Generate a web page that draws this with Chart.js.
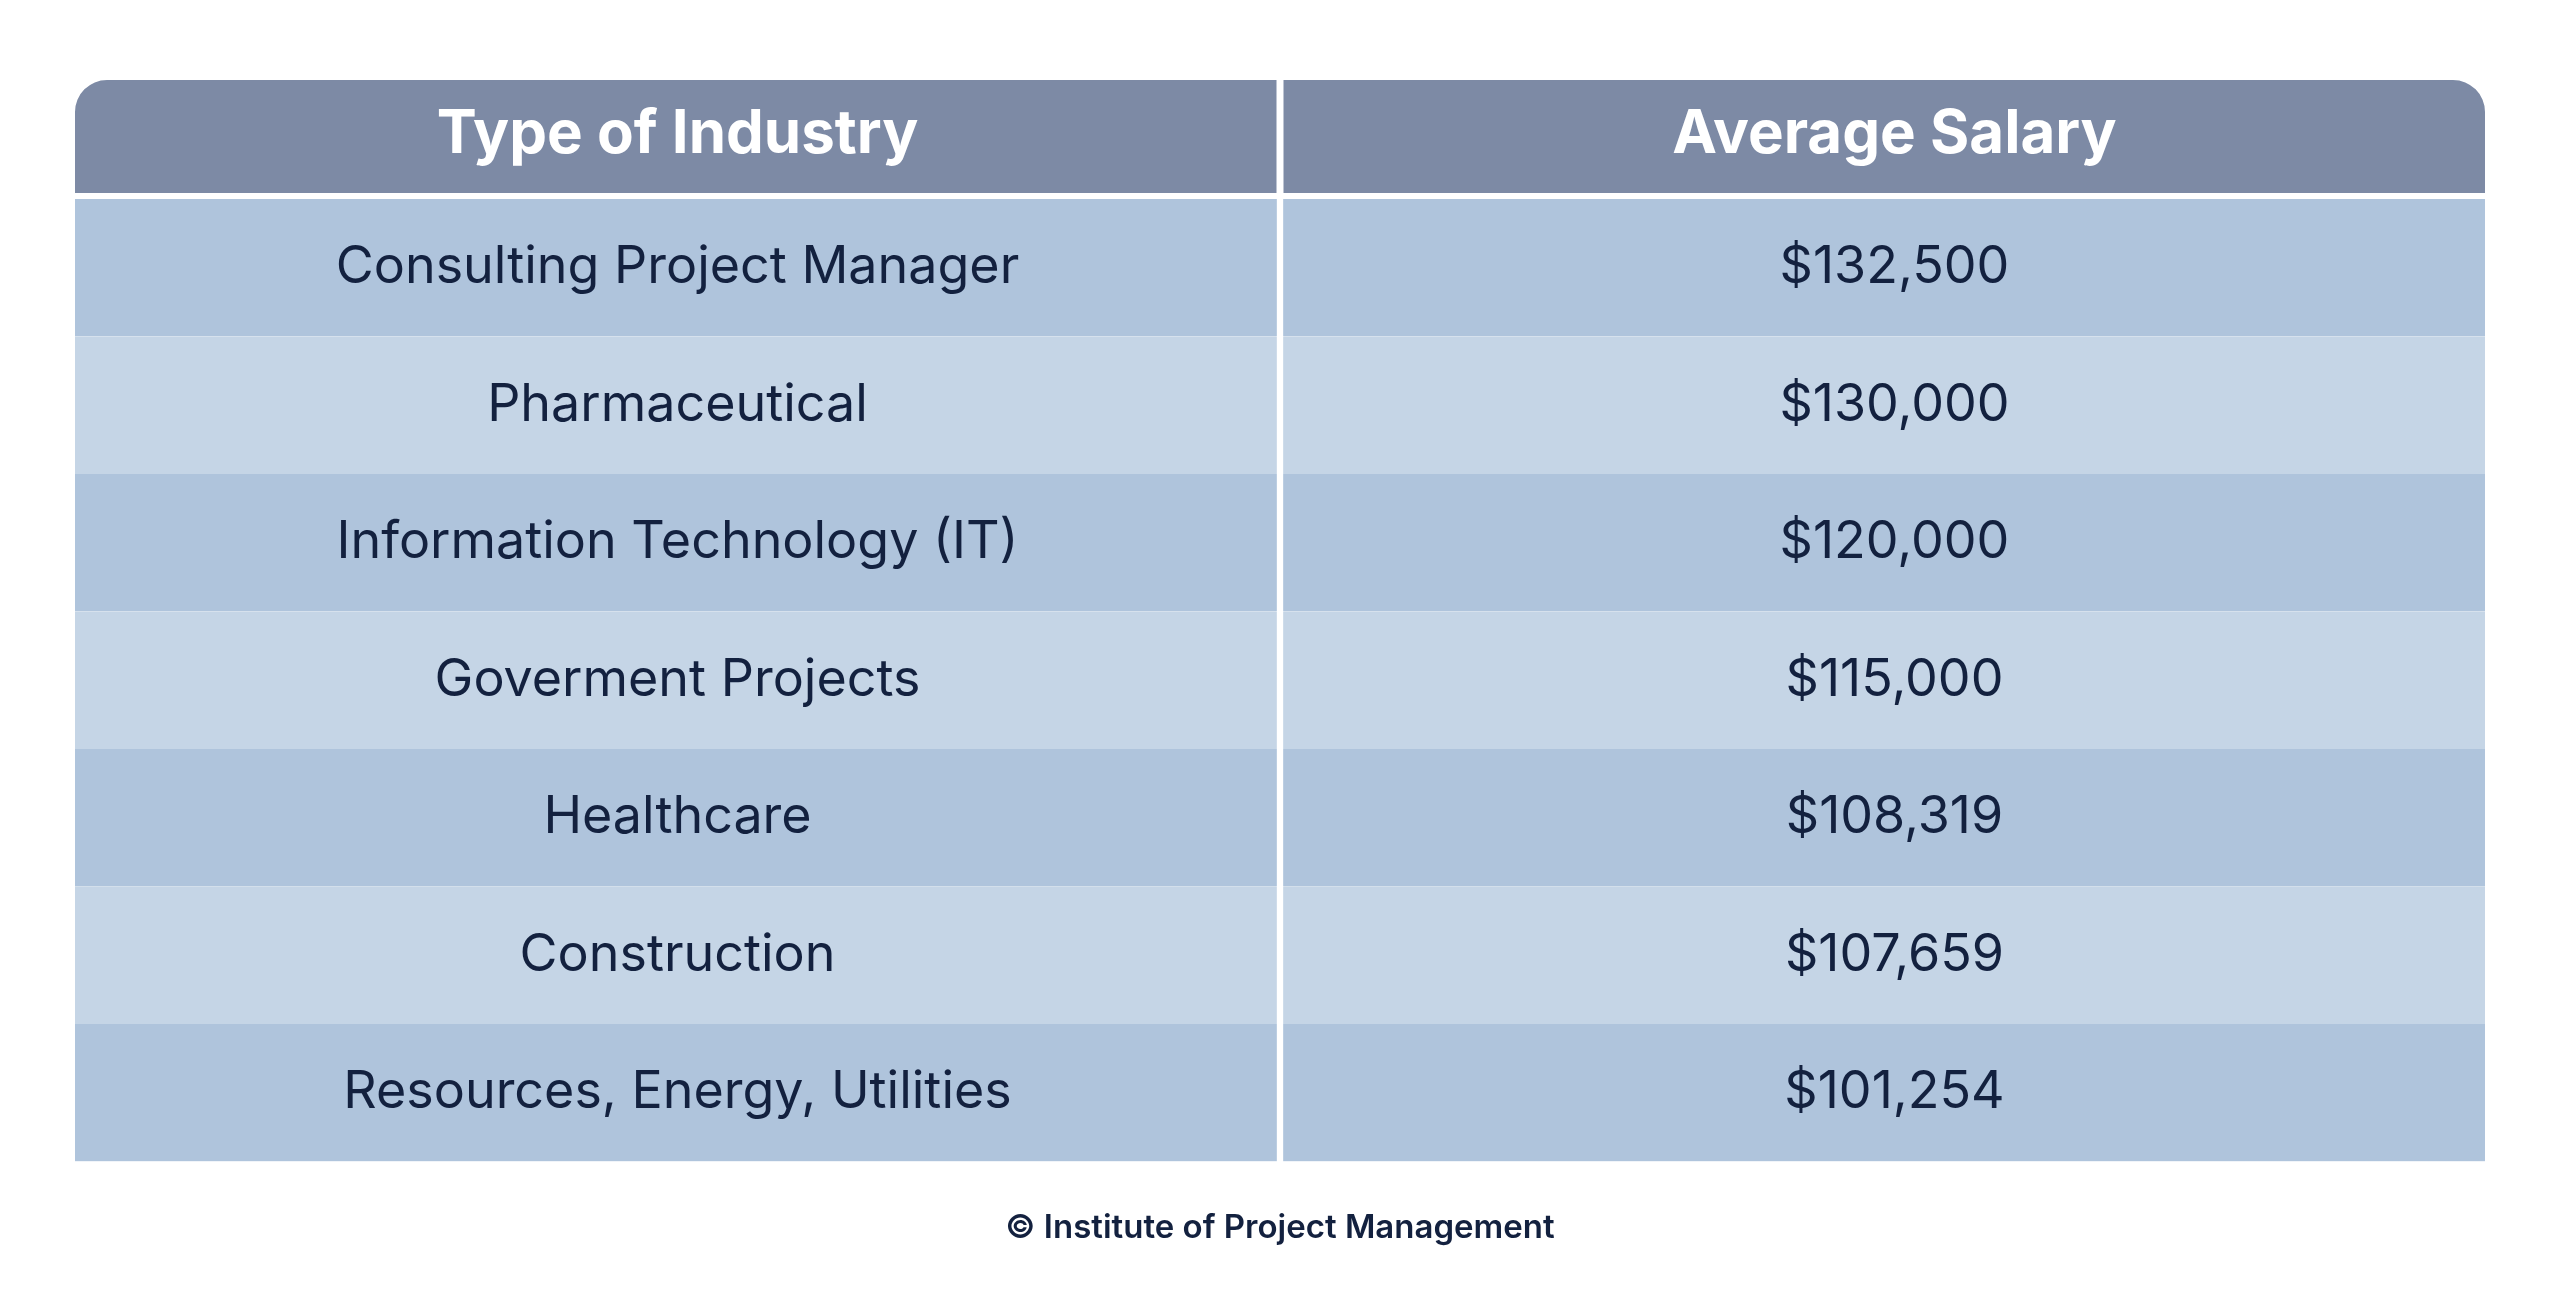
<!DOCTYPE html>
<html>
<head>
<meta charset="utf-8">
<title>Project Manager Salary by Industry</title>
<script src="https://cdn.jsdelivr.net/npm/chart.js@4/dist/chart.umd.min.js"></script>
<style>
  html, body { margin: 0; padding: 0; background: #ffffff; }
  #wrap { width: 2560px; height: 1307px; }
</style>
</head>
<body>
<div id="wrap"><canvas id="salary-table"></canvas></div>
<script>
// Table content
const headers = ['Type of Industry', 'Average Salary'];
const industries = [
    'Consulting Project Manager',
    'Pharmaceutical',
    'Information Technology (IT)',
    'Goverment Projects',
    'Healthcare',
    'Construction',
    'Resources, Energy, Utilities'
];
const salaries = [132500, 130000, 120000, 115000, 108319, 107659, 101254];
const footer = '\u00A9 Institute of Project Management';

const headerBg = '#7d8aa5';
const rowDark = '#afc4dc';
const rowLight = '#c5d5e6';
const textColor = '#13213f';

function fmtSalary(v) {
    return '$' + v.toLocaleString('en-US');
}

const rowColors = industries.map((_, i) => i % 2 === 0 ? rowDark : rowLight);
// the salary column text sits a little right of centre in the original
const colShift = [0, 12];

// header background behind the top x axis, with rounded outer corners
const headerPlugin = {
    id: 'headerBg',
    beforeDraw(chart) {
        const ctx = chart.ctx;
        const xs = chart.scales.x;
        const top = xs.top;
        const bottom = xs.bottom - 6;
        const x0 = xs.getPixelForValue(0);
        const x1 = xs.getPixelForValue(1);
        const x2 = xs.getPixelForValue(2);
        const r = 32;
        ctx.save();
        ctx.fillStyle = headerBg;
        ctx.beginPath();
        ctx.roundRect(x0, top, x1 - x0 - 3.5, bottom - top, [r, 0, 0, 0]);
        ctx.roundRect(x1 + 3.5, top, x2 - x1 - 3.5, bottom - top, [0, r, 0, 0]);
        ctx.fill();
        ctx.restore();
    }
};

// cell text drawn at the centre of each bar
const cellText = {
    id: 'cellText',
    afterDatasetsDraw(chart) {
        const ctx = chart.ctx;
        ctx.save();
        ctx.fillStyle = textColor;
        ctx.font = '400 52px Inter';
        ctx.textAlign = 'center';
        ctx.textBaseline = 'middle';
        chart.data.datasets.forEach((ds, di) => {
            const meta = chart.getDatasetMeta(di);
            meta.data.forEach((bar, i) => {
                const p = bar.getProps(['x', 'base', 'y'], true);
                const cx = (p.x + p.base) / 2 + colShift[di];
                const label = di === 0 ? industries[i] : fmtSalary(salaries[i]);
                ctx.fillText(label, cx, p.y);
            });
        });
        ctx.restore();
    }
};

const ctx = document.getElementById('salary-table').getContext('2d');
const salaryChart = new Chart(ctx, {
    type: 'bar',
    data: {
        labels: industries,
        datasets: [{
            label: headers[0],
            data: industries.map(() => [0, 1]),
            backgroundColor: rowColors,
            borderColor: '#ffffff',
            borderWidth: { top: 0, bottom: 0, left: 0, right: 3.5 },
            borderSkipped: false
        }, {
            label: headers[1],
            data: salaries.map(() => [1, 2]),
            backgroundColor: rowColors,
            borderColor: '#ffffff',
            borderWidth: { top: 0, bottom: 0, left: 3.5, right: 0 },
            borderSkipped: false
        }]
    },
    options: {
        indexAxis: 'y',
        responsive: true,
        maintainAspectRatio: false,
        animation: false,
        grouped: false,
        barPercentage: 1,
        categoryPercentage: 1,
        layout: { padding: { left: 75, right: 75, top: 80, bottom: 59 } },
        scales: {
            x: {
                type: 'linear',
                position: 'top',
                min: 0,
                max: 2,
                grid: { display: false, drawTicks: false },
                border: { display: false },
                afterBuildTicks(scale) {
                    scale.ticks = [{ value: 0.5 }, { value: 1.51 }];
                },
                afterFit(scale) {
                    scale.height = 119;
                },
                ticks: {
                    color: '#ffffff',
                    font: { family: 'Inter', size: 60, weight: '700' },
                    padding: 28,
                    maxRotation: 0,
                    autoSkip: false,
                    callback: (value, index) => headers[index]
                }
            },
            y: {
                type: 'category',
                display: false
            }
        },
        plugins: {
            legend: { display: false },
            tooltip: { enabled: false },
            title: {
                display: true,
                position: 'bottom',
                text: footer,
                color: textColor,
                font: { family: 'Inter', size: 33, weight: '600', lineHeight: 1.2 },
                padding: { top: 47, bottom: 0 }
            }
        }
    },
    plugins: [headerPlugin, cellText]
});
</script>
</body>
</html>
